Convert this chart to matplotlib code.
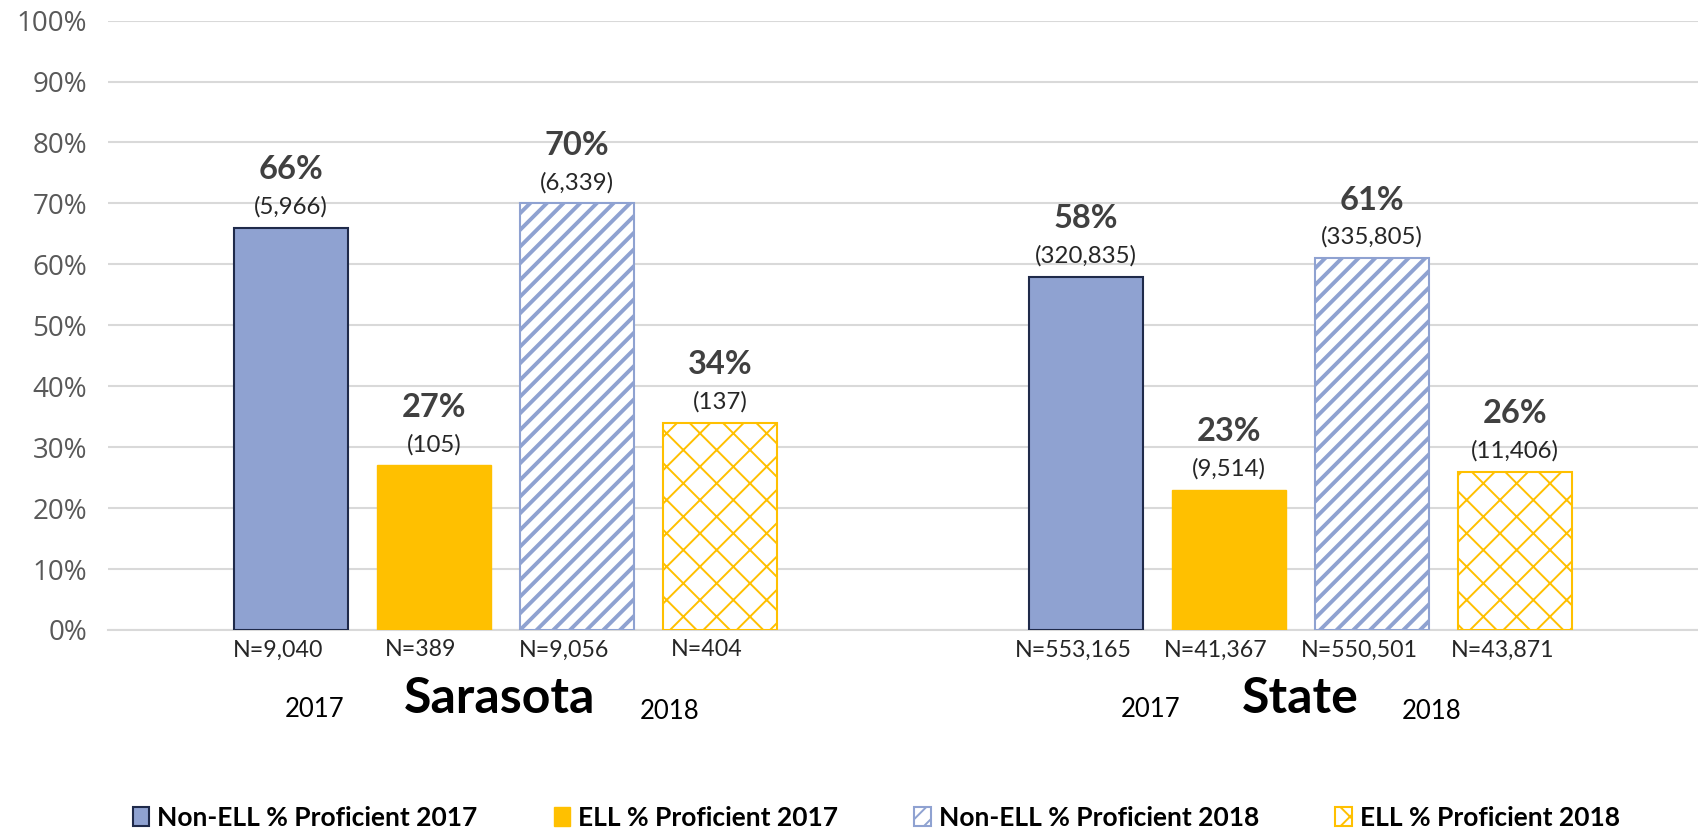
import matplotlib
matplotlib.use("Agg")
import matplotlib.pyplot as plt
import numpy as np

# ---- data ----
regions = ["Sarasota", "State"]
series_names = ["Non-ELL % Proficient 2017", "ELL % Proficient 2017",
                "Non-ELL % Proficient 2018", "ELL % Proficient 2018"]
nonell_2017 = [66, 58]
ell_2017 = [27, 23]
nonell_2018 = [70, 61]
ell_2018 = [34, 26]
prof_counts_nonell_2017 = ["(5,966)", "(320,835)"]
prof_counts_ell_2017 = ["(105)", "(9,514)"]
prof_counts_nonell_2018 = ["(6,339)", "(335,805)"]
prof_counts_ell_2018 = ["(137)", "(11,406)"]
n_nonell_2017 = ["N=9,040", "N=553,165"]
n_ell_2017 = ["N=389", "N=41,367"]
n_nonell_2018 = ["N=9,056", "N=550,501"]
n_ell_2018 = ["N=404", "N=43,871"]
year_labels = ["2017", "2018"]
y_ticks = [0, 10, 20, 30, 40, 50, 60, 70, 80, 90, 100]

BLUE = "#8FA2D1"
DARK_EDGE = "#1F2A4A"
YELLOW = "#FFC000"

plt.rcParams['font.family'] = ['Lato', 'DejaVu Sans']

fig = plt.figure(figsize=(16.98, 8.33), dpi=100)
ax = fig.add_axes([0.0636, 0.2437, 0.9364, 0.7316])

x = np.arange(len(regions))
step = 0.18
width = 0.143
offsets = [-1.5 * step, -0.5 * step, 0.5 * step, 1.5 * step]

styles = [
    dict(color=BLUE, edgecolor=DARK_EDGE, linewidth=1.5, hatch=None, hlw=1.0),
    dict(color=YELLOW, edgecolor=YELLOW, linewidth=1.0, hatch=None, hlw=1.0),
    dict(color="white", edgecolor=BLUE, linewidth=1.5, hatch="//", hlw=2.8),
    dict(color="white", edgecolor=YELLOW, linewidth=1.5, hatch="x", hlw=1.4),
]
values = [nonell_2017, ell_2017, nonell_2018, ell_2018]
counts = [prof_counts_nonell_2017, prof_counts_ell_2017,
          prof_counts_nonell_2018, prof_counts_ell_2018]
ns = [n_nonell_2017, n_ell_2017, n_nonell_2018, n_ell_2018]

handles = []
for i, (vals, st) in enumerate(zip(values, styles)):
    plt.rcParams['hatch.linewidth'] = st['hlw']
    bars = ax.bar(x + offsets[i], vals, width, color=st['color'],
                  edgecolor=st['edgecolor'], linewidth=st['linewidth'],
                  hatch=st['hatch'], label=series_names[i], zorder=3)
    for b in bars:
        if hasattr(b, "set_hatch_linewidth"):
            b.set_hatch_linewidth(st['hlw'])
    handles.append(bars)
    for j, b in enumerate(bars):
        cx = b.get_x() + b.get_width() / 2
        top = b.get_height()
        ax.annotate(f"{vals[j]}%", xy=(cx, top), xytext=(0, 58),
                    textcoords="offset pixels", ha="center", va="center",
                    fontsize=23.5, fontweight="bold", color="#404040")
        ax.annotate(counts[i][j], xy=(cx, top), xytext=(0, 21),
                    textcoords="offset pixels", ha="center", va="center",
                    fontsize=17.3, color="#262626")
        ax.annotate(ns[i][j], xy=(cx, 0), xycoords=ax.get_xaxis_transform(),
                    xytext=(-13, -20), textcoords="offset pixels",
                    ha="center", va="center", fontsize=16.7, color="#262626")

# region and year labels
region_dx = [-0.007, 0.0]
y2017_dx = [-0.24, -0.188]
y2018_dx = [0.207, 0.165]
xt = ax.get_xaxis_transform()
for j, r in enumerate(regions):
    ax.text(x[j] + region_dx[j], -0.112, r, transform=xt, ha="center",
            va="center", fontsize=36, fontweight="bold", color="black")
    ax.text(x[j] + y2017_dx[j], -0.13, year_labels[0], transform=xt,
            ha="center", va="center", fontsize=18.5, color="black")
    ax.text(x[j] + y2018_dx[j], -0.133, year_labels[1], transform=xt,
            ha="center", va="center", fontsize=18.5, color="black")

ax.set_xlim(-0.5, 1.5)
ax.set_ylim(0, 100)
ax.set_yticks(y_ticks)
ax.set_yticklabels([f"{t}%" for t in y_ticks], fontsize=20, color="#595959",
                   family=['Open Sans', 'DejaVu Sans'])
ax.set_xticks([])
ax.tick_params(axis="y", length=0, pad=15)
ax.yaxis.grid(True, color="#D9D9D9", linewidth=1.5, zorder=0)
ax.set_axisbelow(True)
for s in ["top", "right", "left"]:
    ax.spines[s].set_visible(False)
ax.spines["bottom"].set_color("#D9D9D9")
ax.spines["bottom"].set_linewidth(1.5)

leg = fig.legend(handles=handles, labels=series_names, loc="center",
                 bbox_to_anchor=(0.516, 0.018), ncol=4, frameon=False,
                 prop=dict(size=19, weight="bold"), handlelength=0.62,
                 handleheight=0.75, handletextpad=0.3, columnspacing=2.9)
for t in leg.get_texts():
    t.set_color("black")

fig.savefig("out.png", dpi=100)
